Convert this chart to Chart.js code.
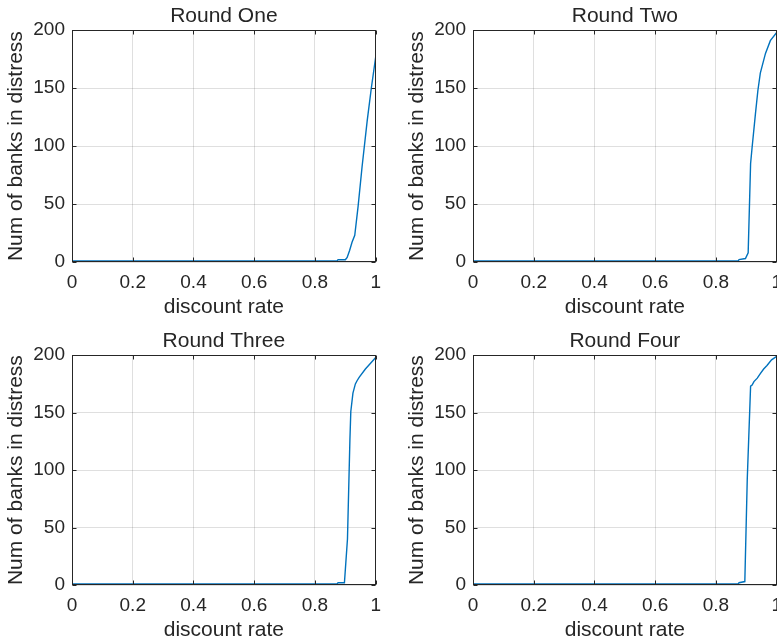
<!DOCTYPE html>
<html lang="en">
<head>
  <meta charset="UTF-8">
  <title>Num of banks in distress vs discount rate</title>
  <script src="https://cdn.jsdelivr.net/npm/chart.js"></script>
  <style>
    body {
      margin: 0;
      background: #fff;
    }

    #wrap {
      position: relative;
      width: 777px;
      height: 642px;
      overflow: hidden;
    }

    #wrap canvas {
      position: absolute;
    }
  </style>
</head>
<body>
  <div id="wrap">
    <canvas id="round1" width="390" height="321" style="left:0;top:0"></canvas>
    <canvas id="round2" width="390" height="321" style="left:401px;top:0"></canvas>
    <canvas id="round3" width="390" height="319" style="left:0;top:325px"></canvas>
    <canvas id="round4" width="390" height="319" style="left:401px;top:325px"></canvas>
  </div>

  <script>
    // values (discount rate -> num of banks in distress)
    const titles = ["Round One", "Round Two", "Round Three", "Round Four"];

    const rateOne = [0, 0.873, 0.876, 0.9, 0.906, 0.914, 0.922, 0.931, 0.942, 0.955, 0.972, 0.986, 1.0];
    const banksOne = [1, 1, 2, 2, 4, 10, 17, 23, 48, 82, 122, 151, 177];

    const rateTwo = [0, 0.873, 0.876, 0.897, 0.906, 0.914, 0.919, 0.930, 0.938, 0.946, 0.963, 0.979, 1.0];
    const banksTwo = [1, 1, 2, 3, 8, 85, 99, 128, 148, 163, 180, 191, 198];

    const rateThree = [0, 0.873, 0.876, 0.897, 0.907, 0.915, 0.918, 0.925, 0.933, 0.939, 0.946, 0.966, 0.983, 1.0];
    const banksThree = [1, 1, 2, 2, 40, 126, 151, 167, 175, 178, 181, 188, 193, 198];

    const rateFour = [0, 0.873, 0.876, 0.895, 0.903, 0.914, 0.919, 0.925, 0.936, 0.946, 0.957, 0.968, 0.983, 1.0];
    const banksFour = [1, 1, 2, 3, 92, 173, 174, 177, 180, 184, 188, 191, 196, 199];

    const xTicks = [0, 0.2, 0.4, 0.6, 0.8, 1];
    const yTicks = [0, 50, 100, 150, 200];

    const rates = [rateOne, rateTwo, rateThree, rateFour];
    const banks = [banksOne, banksTwo, banksThree, banksFour];

    const fontFamily = "'Liberation Sans', Arial, Helvetica, sans-serif";
    const axisColor = "#262626";
    const gridColor = "rgba(38,38,38,0.15)";

    // matlab style box with inward ticks on all four sides
    const boxPlugin = {
      id: "matlabBox",
      afterDraw(chart) {
        const { ctx, chartArea: a, scales } = chart;
        const l = Math.round(a.left) + 0.5, r = Math.round(a.right) - 0.5;
        const t = Math.round(a.top) + 0.5, b = Math.round(a.bottom) - 0.5;
        const len = 4;
        ctx.save();
        ctx.strokeStyle = axisColor;
        ctx.lineWidth = 1;
        ctx.strokeRect(l, t, r - l, b - t);
        ctx.beginPath();
        xTicks.forEach(v => {
          const px = Math.round(scales.x.getPixelForValue(v)) + 0.5;
          ctx.moveTo(px, b); ctx.lineTo(px, b - len);
          ctx.moveTo(px, t); ctx.lineTo(px, t + len);
        });
        yTicks.forEach(v => {
          const py = Math.round(scales.y.getPixelForValue(v)) + 0.5;
          ctx.moveTo(l, py); ctx.lineTo(l + len, py);
          ctx.moveTo(r, py); ctx.lineTo(r - len, py);
        });
        ctx.stroke();
        ctx.restore();
      }
    };

    function makeChart(idx) {
      const ctx = document.getElementById("round" + (idx + 1));
      const points = rates[idx].map((x, i) => ({ x: x, y: banks[idx][i] }));
      return new Chart(ctx, {
        type: "line",
        data: {
          datasets: [{
            data: points,
            borderColor: "#0072BD",
            borderWidth: 1.4,
            pointRadius: 0,
            tension: 0,
            fill: false
          }]
        },
        options: {
          responsive: false,
          animation: false,
          layout: { padding: { left: 0, top: 0, right: 13, bottom: 0 } },
          plugins: {
            legend: { display: false },
            tooltip: { enabled: false },
            title: {
              display: true,
              text: titles[idx],
              fullSize: false,
              color: axisColor,
              font: { family: fontFamily, size: 21, weight: "normal" },
              padding: { top: 4, bottom: 1 }
            }
          },
          scales: {
            x: {
              type: "linear",
              min: 0,
              max: 1,
              ticks: {
                stepSize: 0.2,
                maxRotation: 0,
                padding: 9,
                color: axisColor,
                font: { family: fontFamily, size: 19 },
                callback: v => String(Math.round(v * 10) / 10)
              },
              grid: { color: gridColor, drawTicks: false },
              border: { display: false },
              title: {
                display: true,
                text: "discount rate",
                color: axisColor,
                font: { family: fontFamily, size: 21 },
                padding: { top: 0, bottom: 1 }
              },
              afterFit: s => { s.height = 59; }
            },
            y: {
              min: 0,
              max: 200,
              ticks: {
                stepSize: 50,
                padding: 7,
                color: axisColor,
                font: { family: fontFamily, size: 19 }
              },
              grid: { color: gridColor, drawTicks: false },
              border: { display: false },
              title: {
                display: true,
                text: "Num of banks in distress",
                color: axisColor,
                font: { family: fontFamily, size: 21 },
                padding: { top: 4, bottom: 0 }
              },
              afterFit: s => { s.width = 72; }
            }
          }
        },
        plugins: [boxPlugin]
      });
    }

    const charts = titles.map((t, i) => makeChart(i));
  </script>
</body>
</html>
